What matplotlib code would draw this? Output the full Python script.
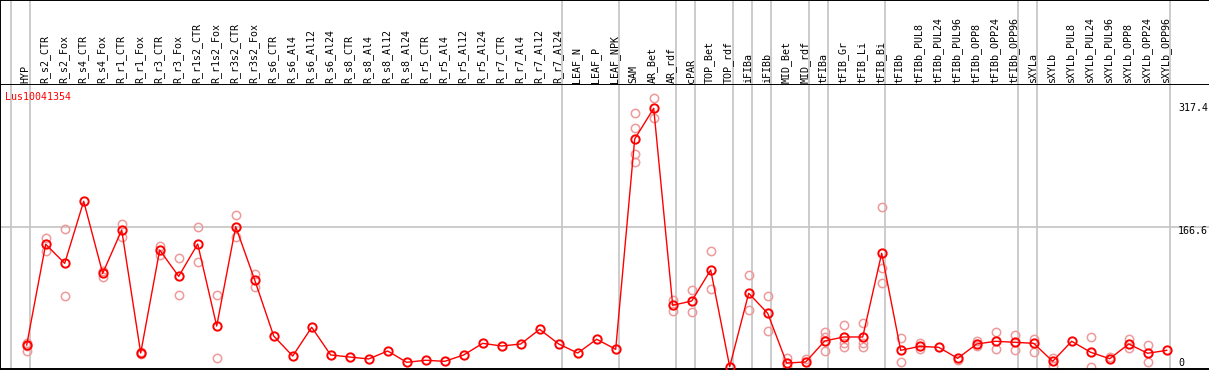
import numpy as np
import matplotlib
matplotlib.use("Agg")
import matplotlib.pyplot as plt
from matplotlib.transforms import blended_transform_factory

samples = ["HYP", "R_s2_CTR", "R_s2_Fox", "R_s4_CTR", "R_s4_Fox", "R_r1_CTR", "R_r1_Fox",
           "R_r3_CTR", "R_r3_Fox", "R_r1s2_CTR", "R_r1s2_Fox", "R_r3s2_CTR", "R_r3s2_Fox",
           "R_s6_CTR", "R_s6_Al4", "R_s6_Al12", "R_s6_Al24", "R_s8_CTR", "R_s8_Al4",
           "R_s8_Al12", "R_s8_Al24", "R_r5_CTR", "R_r5_Al4", "R_r5_Al12", "R_r5_Al24",
           "R_r7_CTR", "R_r7_Al4", "R_r7_Al12", "R_r7_Al24", "LEAF_N", "LEAF_P", "LEAF_NPK",
           "SAM", "AR_Bet", "AR_rdf", "cPAR", "TOP_Bet", "TOP_rdf", "iFIBa", "iFIBb",
           "MID_Bet", "MID_rdf", "tFIBa", "tFIB_Gr", "tFIB_Li", "tFIB_Bi", "tFIBb",
           "tFIBb_PUL8", "tFIBb_PUL24", "tFIBb_PUL96", "tFIBb_OPP8", "tFIBb_OPP24",
           "tFIBb_OPP96", "sXYLa", "sXYLb", "sXYLb_PUL8", "sXYLb_PUL24", "sXYLb_PUL96",
           "sXYLb_OPP8", "sXYLb_OPP24", "sXYLb_OPP96"]

# group sizes (vertical separators drawn after each group)
group_sizes = [1, 28, 3, 3, 1, 2, 1, 1, 2, 1, 3, 7, 1, 7]

means = [26.7, 150.4, 127.0, 203.2, 114.7, 167.9, 16.8, 143.3, 111.0, 150.7,
         50.0, 172.0, 106.5, 37.7, 13.1, 48.4, 14.4, 11.9, 9.5, 19.3,
         5.4, 7.9, 6.6, 14.4, 28.7, 25.4, 27.9, 45.9, 27.9, 16.8,
         33.7, 21.4, 279.7, 317.4, 75.4, 80.7, 118.8, 0.0, 90.2, 65.6,
         4.5, 5.8, 31.6, 36.5, 36.5, 139.3, 20.1, 25.0, 23.8, 10.3,
         27.9, 31.2, 30.0, 28.7, 6.6, 31.2, 17.7, 9.8, 27.9, 16.5, 20.1]

reps = [[29.5, 19.7, 26.0], [157.7, 142.5], [168.8, 86.5], [], [117.9, 110.6],
        [175.3, 159.7], [15.6, 18.0], [148.6, 137.2], [133.2, 87.7], [171.2, 128.2],
        [87.7, 10.3], [186.0, 159.0], [113.9, 98.3], [], [], [], [], [], [], [],
        [], [], [], [], [], [], [], [], [], [],
        [], [], [311.3, 292.8, 261.3, 251.8], [329.7, 305.1], [81.9, 68.0],
        [93.8, 66.8], [142.1, 95.1], [], [112.3, 69.6], [86.8, 43.5],
        [10.3, 0.0], [9.5], [43.0, 36.9, 18.9], [50.9, 29.5, 23.8], [53.3, 29.5, 24.6],
        [195.8, 120.9, 102.4], [35.3, 5.4], [29.5, 22.1], [], [7.9],
        [31.9, 25.0], [42.3, 21.4], [38.9, 20.9], [34.4, 17.7], [10.7, 1.2],
        [], [36.5, 0.0], [11.9], [34.4, 22.6], [26.7, 5.4], []]

gene = "Lus10041354"
ytick_vals = [317.4, 166.6, 0]

W, H = 1209, 370
fig = plt.figure(figsize=(W / 100, H / 100), dpi=100)
mono = "DejaVu Sans Mono"
fs = 7.2

x0, step = 26.7, 19.0
xlim = (-x0 / step, (W - x0) / step)

head_bot = 85
plot_bot = 369
hd = fig.add_axes([0, (H - head_bot) / H, 1, head_bot / H])
ax = fig.add_axes([0, (H - plot_bot) / H, 1, (plot_bot - head_bot) / H])

zero_px, scale = 366.7, 0.8141
ylim = ((zero_px - plot_bot) / scale, (zero_px - head_bot) / scale)

for a in (hd, ax):
    a.set_xlim(*xlim)
    a.set_xticks([])
    a.set_yticks([])
    a.spines["right"].set_visible(False)
    for s in a.spines.values():
        s.set_linewidth(1.4)
hd.set_ylim(0, 1)
ax.set_ylim(*ylim)
ax.spines["top"].set_visible(False)

# separators
bounds = [-1] + list(np.cumsum(group_sizes) - 1)
for b in bounds:
    for a in (hd, ax):
        a.axvline(b + 0.19, color="#c4c4c4", lw=1.2, zorder=0)
ax.axhline(sum(ylim) / 2, color="#c4c4c4", lw=1.2, zorder=0)

# header labels
for i, s in enumerate(samples):
    hd.text(i - 0.05, 0.02, s, rotation=90, ha="center", va="bottom",
            fontsize=fs, family=mono)

# replicates
rx = [i for i, r in enumerate(reps) for _ in r]
ry = [v for r in reps for v in r]
ax.plot(rx, ry, "o", ms=6, mfc="none", mec="#ef9a9a", mew=1.1, zorder=2,
        clip_on=False)

x = np.arange(len(means))
ax.plot(x, means, "-", color="red", lw=1.0, zorder=3, clip_on=False)
ax.plot(x, means, "o", ms=6, mfc="none", mec="red", mew=1.4, zorder=4,
        clip_on=False)

ax.text(5 / step + xlim[0], 1 - 12 / (plot_bot - head_bot), gene, color="red",
        fontsize=fs, family=mono, va="center", ha="left",
        transform=blended_transform_factory(ax.transData, ax.transAxes))

tx = (1178 - x0) / step
for v in ytick_vals:
    if v == 0:
        ax.annotate("0", (tx, v), xytext=(0, 3), textcoords="offset points",
                    fontsize=fs, family=mono, va="center", ha="left")
    else:
        ax.text(tx, v, f"{v}", fontsize=fs, family=mono, va="center", ha="left")

fig.savefig("out.png", dpi=100)
